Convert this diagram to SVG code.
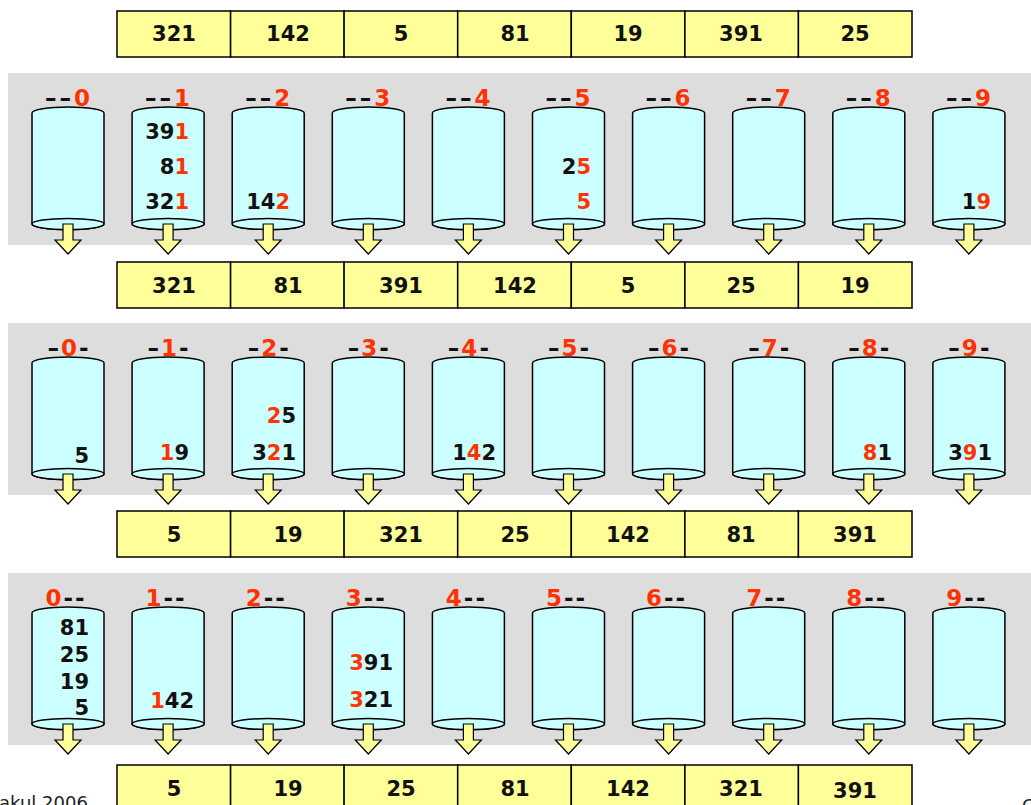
<svg xmlns="http://www.w3.org/2000/svg" xmlns:xlink="http://www.w3.org/1999/xlink" width="1031" height="805" viewBox="0 0 1031 805">
<style>
.bg{fill:#DDDDDD}
.cell{fill:#FFFF99;stroke:#000;stroke-width:1.5}
.num{font-family:"DejaVu Sans",Verdana,sans-serif;font-weight:bold;font-size:21px;fill:#111}
.ct{text-anchor:middle}
.in{text-anchor:end}
.hd{font-family:"DejaVu Sans",Verdana,sans-serif;font-weight:bold;font-size:23px;fill:#111;text-anchor:middle}
.h1{letter-spacing:3px}
.h2{letter-spacing:2px}
.r{fill:#FF3300}
.foot{font-family:"DejaVu Sans",Tahoma,sans-serif;font-size:18px;fill:#222}
</style>
<defs>
<g id="cyl">
<path d="M0,6 A36,6 0 0 1 72,6 L72,117 A36,5.5 0 0 1 0,117 Z" fill="#CCFFFF" stroke="#000" stroke-width="1.5"/>
<ellipse cx="36" cy="117" rx="36" ry="5.5" fill="#CCFFFF" stroke="#000" stroke-width="1.5"/>
</g>
<path id="arr" d="M-5,0 L5,0 L5,16 L13,16 L0,30 L-13,16 L-5,16 Z" fill="#FFFF99" stroke="#000" stroke-width="1.2" stroke-linejoin="miter"/>
</defs>
<rect class="bg" x="8" y="73" width="1030" height="172"/>
<rect class="bg" x="8" y="323" width="1030" height="172"/>
<rect class="bg" x="8" y="573" width="1030" height="172"/>

<g id="array1">
<rect class="cell" x="117" y="11" width="113.6" height="46"/><rect class="cell" x="230.6" y="11" width="113.6" height="46"/><rect class="cell" x="344.1" y="11" width="113.6" height="46"/><rect class="cell" x="457.7" y="11" width="113.6" height="46"/><rect class="cell" x="571.3" y="11" width="113.6" height="46"/><rect class="cell" x="684.9" y="11" width="113.6" height="46"/><rect class="cell" x="798.4" y="11" width="113.6" height="46"/>
<text class="num ct" x="174" y="41">321</text><text class="num ct" x="288" y="41">142</text><text class="num ct" x="401" y="41">5</text><text class="num ct" x="515" y="41">81</text><text class="num ct" x="628" y="41">19</text><text class="num ct" x="741" y="41">391</text><text class="num ct" x="855" y="41">25</text>
</g>
<g id="array2">
<rect class="cell" x="117" y="262" width="113.6" height="46"/><rect class="cell" x="230.6" y="262" width="113.6" height="46"/><rect class="cell" x="344.1" y="262" width="113.6" height="46"/><rect class="cell" x="457.7" y="262" width="113.6" height="46"/><rect class="cell" x="571.3" y="262" width="113.6" height="46"/><rect class="cell" x="684.9" y="262" width="113.6" height="46"/><rect class="cell" x="798.4" y="262" width="113.6" height="46"/>
<text class="num ct" x="174" y="293">321</text><text class="num ct" x="288" y="293">81</text><text class="num ct" x="401" y="293">391</text><text class="num ct" x="515" y="293">142</text><text class="num ct" x="628" y="293">5</text><text class="num ct" x="741" y="293">25</text><text class="num ct" x="855" y="293">19</text>
</g>
<g id="array3">
<rect class="cell" x="117" y="511" width="113.6" height="46"/><rect class="cell" x="230.6" y="511" width="113.6" height="46"/><rect class="cell" x="344.1" y="511" width="113.6" height="46"/><rect class="cell" x="457.7" y="511" width="113.6" height="46"/><rect class="cell" x="571.3" y="511" width="113.6" height="46"/><rect class="cell" x="684.9" y="511" width="113.6" height="46"/><rect class="cell" x="798.4" y="511" width="113.6" height="46"/>
<text class="num ct" x="174" y="542">5</text><text class="num ct" x="288" y="542">19</text><text class="num ct" x="401" y="542">321</text><text class="num ct" x="515" y="542">25</text><text class="num ct" x="628" y="542">142</text><text class="num ct" x="741" y="542">81</text><text class="num ct" x="855" y="542">391</text>
</g>
<g id="array4">
<rect class="cell" x="117" y="765" width="113.6" height="46"/><rect class="cell" x="230.6" y="765" width="113.6" height="46"/><rect class="cell" x="344.1" y="765" width="113.6" height="46"/><rect class="cell" x="457.7" y="765" width="113.6" height="46"/><rect class="cell" x="571.3" y="765" width="113.6" height="46"/><rect class="cell" x="684.9" y="765" width="113.6" height="46"/><rect class="cell" x="798.4" y="765" width="113.6" height="46"/>
<text class="num ct" x="174" y="796">5</text><text class="num ct" x="288" y="796">19</text><text class="num ct" x="401" y="796">25</text><text class="num ct" x="515" y="796">81</text><text class="num ct" x="628" y="796">142</text><text class="num ct" x="741" y="796">321</text><text class="num ct" x="855" y="798">391</text>
</g>

<!-- Pass 1: units digit -->
<g id="p1b0"><use xlink:href="#cyl" x="32" y="107"/><text class="hd h1" x="69" y="106">––<tspan class="r">0</tspan></text></g>
<g id="p1b1"><use xlink:href="#cyl" x="132.1" y="107"/><text class="hd h1" x="169.1" y="106">––<tspan class="r">1</tspan></text>
<text class="num in" x="189" y="139">39<tspan class="r">1</tspan></text><text class="num in" x="189" y="174">8<tspan class="r">1</tspan></text><text class="num in" x="189" y="209">32<tspan class="r">1</tspan></text></g>
<g id="p1b2"><use xlink:href="#cyl" x="232.2" y="107"/><text class="hd h1" x="269.2" y="106">––<tspan class="r">2</tspan></text>
<text class="num in" x="290" y="209">14<tspan class="r">2</tspan></text></g>
<g id="p1b3"><use xlink:href="#cyl" x="332.3" y="107"/><text class="hd h1" x="369.3" y="106">––<tspan class="r">3</tspan></text></g>
<g id="p1b4"><use xlink:href="#cyl" x="432.4" y="107"/><text class="hd h1" x="469.4" y="106">––<tspan class="r">4</tspan></text></g>
<g id="p1b5"><use xlink:href="#cyl" x="532.5" y="107"/><text class="hd h1" x="569.5" y="106">––<tspan class="r">5</tspan></text>
<text class="num in" x="591" y="174">2<tspan class="r">5</tspan></text><text class="num in r" x="591" y="209">5</text></g>
<g id="p1b6"><use xlink:href="#cyl" x="632.6" y="107"/><text class="hd h1" x="669.6" y="106">––<tspan class="r">6</tspan></text></g>
<g id="p1b7"><use xlink:href="#cyl" x="732.7" y="107"/><text class="hd h1" x="769.7" y="106">––<tspan class="r">7</tspan></text></g>
<g id="p1b8"><use xlink:href="#cyl" x="832.8" y="107"/><text class="hd h1" x="869.8" y="106">––<tspan class="r">8</tspan></text></g>
<g id="p1b9"><use xlink:href="#cyl" x="932.9" y="107"/><text class="hd h1" x="969.9" y="106">––<tspan class="r">9</tspan></text>
<text class="num in" x="991" y="209">1<tspan class="r">9</tspan></text></g>

<!-- Pass 2: tens digit -->
<g id="p2b0"><use xlink:href="#cyl" x="32" y="357"/><text class="hd h2" x="69" y="356">–<tspan class="r">0</tspan>-</text>
<text class="num in" x="89" y="463">5</text></g>
<g id="p2b1"><use xlink:href="#cyl" x="132.1" y="357"/><text class="hd h2" x="169.1" y="356">–<tspan class="r">1</tspan>-</text>
<text class="num in" x="189" y="460"><tspan class="r">1</tspan>9</text></g>
<g id="p2b2"><use xlink:href="#cyl" x="232.2" y="357"/><text class="hd h2" x="269.2" y="356">–<tspan class="r">2</tspan>-</text>
<text class="num in" x="296" y="423"><tspan class="r">2</tspan>5</text><text class="num in" x="296" y="460">3<tspan class="r">2</tspan>1</text></g>
<g id="p2b3"><use xlink:href="#cyl" x="332.3" y="357"/><text class="hd h2" x="369.3" y="356">–<tspan class="r">3</tspan>-</text></g>
<g id="p2b4"><use xlink:href="#cyl" x="432.4" y="357"/><text class="hd h2" x="469.4" y="356">–<tspan class="r">4</tspan>-</text>
<text class="num in" x="496" y="460">1<tspan class="r">4</tspan>2</text></g>
<g id="p2b5"><use xlink:href="#cyl" x="532.5" y="357"/><text class="hd h2" x="569.5" y="356">–<tspan class="r">5</tspan>-</text></g>
<g id="p2b6"><use xlink:href="#cyl" x="632.6" y="357"/><text class="hd h2" x="669.6" y="356">–<tspan class="r">6</tspan>-</text></g>
<g id="p2b7"><use xlink:href="#cyl" x="732.7" y="357"/><text class="hd h2" x="769.7" y="356">–<tspan class="r">7</tspan>-</text></g>
<g id="p2b8"><use xlink:href="#cyl" x="832.8" y="357"/><text class="hd h2" x="869.8" y="356">–<tspan class="r">8</tspan>-</text>
<text class="num in" x="892" y="460"><tspan class="r">8</tspan>1</text></g>
<g id="p2b9"><use xlink:href="#cyl" x="932.9" y="357"/><text class="hd h2" x="969.9" y="356">–<tspan class="r">9</tspan>-</text>
<text class="num in" x="992" y="460">3<tspan class="r">9</tspan>1</text></g>

<!-- Pass 3: hundreds digit -->
<g id="p3b0"><use xlink:href="#cyl" x="32" y="607"/><text class="hd h2" x="66" y="606"><tspan class="r">0</tspan>--</text>
<text class="num in" x="89" y="635">81</text><text class="num in" x="89" y="662">25</text><text class="num in" x="89" y="689">19</text><text class="num in" x="89" y="715">5</text></g>
<g id="p3b1"><use xlink:href="#cyl" x="132.1" y="607"/><text class="hd h2" x="166.1" y="606"><tspan class="r">1</tspan>--</text>
<text class="num in" x="194" y="708"><tspan class="r">1</tspan>42</text></g>
<g id="p3b2"><use xlink:href="#cyl" x="232.2" y="607"/><text class="hd h2" x="266.2" y="606"><tspan class="r">2</tspan>--</text></g>
<g id="p3b3"><use xlink:href="#cyl" x="332.3" y="607"/><text class="hd h2" x="366.3" y="606"><tspan class="r">3</tspan>--</text>
<text class="num in" x="393" y="670"><tspan class="r">3</tspan>91</text><text class="num in" x="393" y="707"><tspan class="r">3</tspan>21</text></g>
<g id="p3b4"><use xlink:href="#cyl" x="432.4" y="607"/><text class="hd h2" x="466.4" y="606"><tspan class="r">4</tspan>--</text></g>
<g id="p3b5"><use xlink:href="#cyl" x="532.5" y="607"/><text class="hd h2" x="566.5" y="606"><tspan class="r">5</tspan>--</text></g>
<g id="p3b6"><use xlink:href="#cyl" x="632.6" y="607"/><text class="hd h2" x="666.6" y="606"><tspan class="r">6</tspan>--</text></g>
<g id="p3b7"><use xlink:href="#cyl" x="732.7" y="607"/><text class="hd h2" x="766.7" y="606"><tspan class="r">7</tspan>--</text></g>
<g id="p3b8"><use xlink:href="#cyl" x="832.8" y="607"/><text class="hd h2" x="866.8" y="606"><tspan class="r">8</tspan>--</text></g>
<g id="p3b9"><use xlink:href="#cyl" x="932.9" y="607"/><text class="hd h2" x="966.9" y="606"><tspan class="r">9</tspan>--</text></g>

<g id="connectors">
<use xlink:href="#arr" x="68" y="224"/><use xlink:href="#arr" x="168.1" y="224"/><use xlink:href="#arr" x="268.2" y="224"/><use xlink:href="#arr" x="368.3" y="224"/><use xlink:href="#arr" x="468.4" y="224"/><use xlink:href="#arr" x="568.5" y="224"/><use xlink:href="#arr" x="668.6" y="224"/><use xlink:href="#arr" x="768.7" y="224"/><use xlink:href="#arr" x="868.8" y="224"/><use xlink:href="#arr" x="968.9" y="224"/>
<use xlink:href="#arr" x="68" y="474"/><use xlink:href="#arr" x="168.1" y="474"/><use xlink:href="#arr" x="268.2" y="474"/><use xlink:href="#arr" x="368.3" y="474"/><use xlink:href="#arr" x="468.4" y="474"/><use xlink:href="#arr" x="568.5" y="474"/><use xlink:href="#arr" x="668.6" y="474"/><use xlink:href="#arr" x="768.7" y="474"/><use xlink:href="#arr" x="868.8" y="474"/><use xlink:href="#arr" x="968.9" y="474"/>
<use xlink:href="#arr" x="68" y="724"/><use xlink:href="#arr" x="168.1" y="724"/><use xlink:href="#arr" x="268.2" y="724"/><use xlink:href="#arr" x="368.3" y="724"/><use xlink:href="#arr" x="468.4" y="724"/><use xlink:href="#arr" x="568.5" y="724"/><use xlink:href="#arr" x="668.6" y="724"/><use xlink:href="#arr" x="768.7" y="724"/><use xlink:href="#arr" x="868.8" y="724"/><use xlink:href="#arr" x="968.9" y="724"/>
</g>

<text class="foot" x="-1" y="809">akul 2006</text>
<text class="foot" x="1022" y="812">C</text>
</svg>
